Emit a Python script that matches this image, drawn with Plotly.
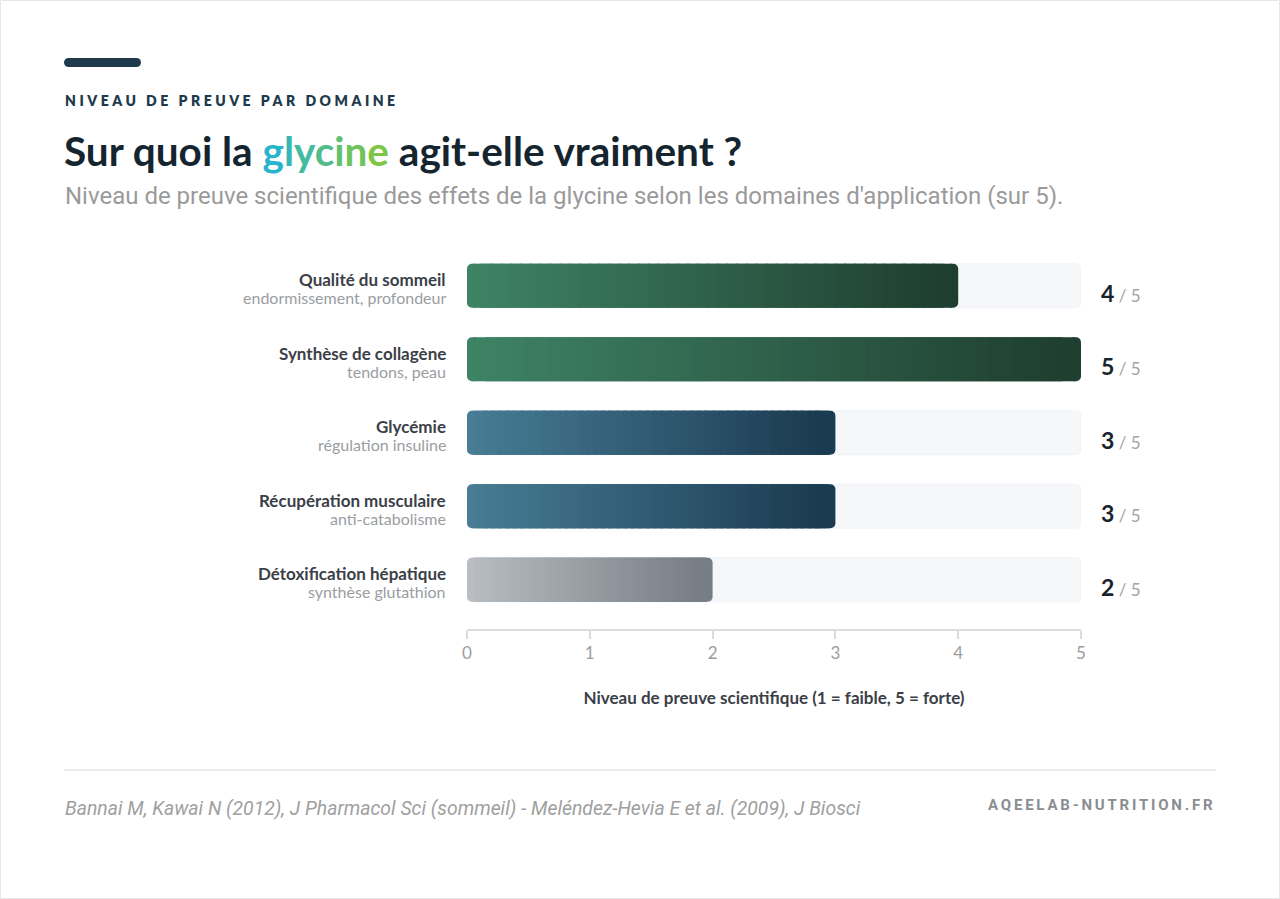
import plotly.graph_objects as go

# ---------------- data ----------------
categories = ["Qualité du sommeil", "Synthèse de collagène", "Glycémie",
              "Récupération musculaire", "Détoxification hépatique"]
sublabels = ["endormissement, profondeur", "tendons, peau", "régulation insuline",
             "anti-catabolisme", "synthèse glutathion"]
scores = [4, 5, 3, 3, 2]
max_score = 5
x_ticks = [0, 1, 2, 3, 4, 5]
# gradient palette per bar (left colour, right colour)
grad_left = [(63, 132, 102), (63, 132, 102), (72, 126, 150), (72, 126, 150), (186, 191, 196)]
grad_right = [(30, 61, 47), (30, 61, 47), (26, 57, 80), (26, 57, 80), (118, 124, 131)]

# ---------------- layout geometry (page pixels) ----------------
W, H = 1280, 899
PL, PR, PT, PB = 467, 1081, 249, 629
PW, PH = PR - PL, PB - PT


def px(x):
    return (x - PL) / PW


def py(y):
    return (PB - y) / PH


ypos = list(range(len(categories)))
N = 50
EXT = 0.05
END_W = 0.1
BAR_W = 0.6
RADIUS = 5

fig = go.Figure()

# background track
fig.add_trace(go.Bar(
    y=ypos, x=[max_score] * len(categories), base=[0] * len(categories),
    orientation="h", width=BAR_W, marker=dict(color="#F5F7F8", cornerradius=RADIUS),
    hoverinfo="skip", showlegend=False))


def seg_color(k, t):
    a, b = grad_left[k], grad_right[k]
    c = [round(a[j] + (b[j] - a[j]) * t) for j in range(3)]
    return "rgb(%d,%d,%d)" % tuple(c)


def seg_trace(i):
    bases, lens, cols = [], [], []
    for k, v in enumerate(scores):
        if i == 0:
            s, e = 0, END_W
        elif i == N - 1:
            s, e = v - END_W, v
        else:
            s = max(v * i / N - EXT, END_W / 2)
            e = min(v * (i + 1) / N + EXT, v - END_W / 2)
            if e < s:
                e = s
        bases.append(s)
        lens.append(e - s)
        cols.append(seg_color(k, (i + 0.5) / N))
    rad = RADIUS if i in (0, N - 1) else 0
    return go.Bar(y=ypos, x=lens, base=bases, orientation="h", width=BAR_W,
                  marker=dict(color=cols, cornerradius=rad, line=dict(width=0)),
                  hoverinfo="skip", showlegend=False)


order = [N - 1, 0] + list(range(1, N - 1))
for i in order:
    fig.add_trace(seg_trace(i))

annotations = []
LABEL_FONT = "Lato"

# category labels
for k, (c, s) in enumerate(zip(categories, sublabels)):
    annotations.append(dict(x=0, y=k, xref="x", yref="y", xanchor="right", yanchor="middle",
                            xshift=-19, yshift=6, text=c, showarrow=False,
                            font=dict(family=LABEL_FONT, size=17, color="#3B4048", weight=700)))
    annotations.append(dict(x=0, y=k, xref="x", yref="y", xanchor="right", yanchor="middle",
                            xshift=-19, yshift=-12, text=s, showarrow=False,
                            font=dict(family=LABEL_FONT, size=16, color="#9A9DA2")))
    annotations.append(dict(x=max_score, y=k, xref="x", yref="y", xanchor="left", yanchor="middle",
                            xshift=18, yshift=-7,
                            text="<b>%d</b><span style='font-size:17px;color:#A0A3A8'> / %d</span>" % (scores[k], max_score),
                            showarrow=False,
                            font=dict(family=LABEL_FONT, size=23, color="#18232C")))

# header
annotations.append(dict(x=px(63), y=py(100), xref="paper", yref="paper", xanchor="left", yanchor="middle",
                        text="<span style='letter-spacing:3.5px'>NIVEAU DE PREUVE PAR DOMAINE</span>",
                        showarrow=False,
                        font=dict(family=LABEL_FONT, size=14, color="#1E3A4C", weight=800)))

gly = "glycine"
gc0, gc1 = (40, 180, 205), (125, 198, 70)
gly_html = ""
for j, ch in enumerate(gly):
    t = j / (len(gly) - 1)
    col = tuple(round(gc0[m] + (gc1[m] - gc0[m]) * t) for m in range(3))
    gly_html += "<span style='color:rgb(%d,%d,%d)'>%s</span>" % (col + (ch,))
annotations.append(dict(x=px(62), y=py(150), xref="paper", yref="paper", xanchor="left", yanchor="middle",
                        text="<b>Sur quoi la " + gly_html + " agit-elle vraiment ?</b>", showarrow=False,
                        font=dict(family=LABEL_FONT, size=40.5, color="#15252F", weight=900)))
annotations.append(dict(x=px(63), y=py(196), xref="paper", yref="paper", xanchor="left", yanchor="middle",
                        text="Niveau de preuve scientifique des effets de la glycine selon les domaines d'application (sur 5).",
                        showarrow=False,
                        font=dict(family="Roboto", size=24, color="#9A9A9A")))

# footer
annotations.append(dict(x=px(63), y=py(808), xref="paper", yref="paper", xanchor="left", yanchor="middle",
                        text="Bannai M, Kawai N (2012), J Pharmacol Sci (sommeil) - Meléndez-Hevia E et al. (2009), J Biosci",
                        showarrow=False,
                        font=dict(family="Roboto", size=19.4, color="#A0A0A0", style="italic")))
annotations.append(dict(x=px(1217), y=py(805), xref="paper", yref="paper", xanchor="right", yanchor="middle",
                        text="<span style='letter-spacing:2.8px'>AQEELAB-NUTRITION.FR</span>",
                        showarrow=False,
                        font=dict(family="Roboto", size=15, color="#8A8D91", weight=700)))

PILL_R = 4.5
shapes = [
    # card border
    dict(type="rect", xref="paper", yref="paper", x0=px(0.5), x1=px(W - 0.5), y0=py(0.5), y1=py(H - 0.5),
         line=dict(color="#E6E6E6", width=1), fillcolor="rgba(0,0,0,0)", layer="below"),
    # accent pill: body + rounded ends
    dict(type="rect", xref="paper", yref="paper", x0=px(64 + PILL_R), x1=px(141 - PILL_R), y0=py(58), y1=py(67),
         line=dict(width=0), fillcolor="#1E3A4C"),
    dict(type="circle", xref="paper", yref="paper", xsizemode="pixel", ysizemode="pixel",
         xanchor=px(64 + PILL_R), yanchor=py(62.5), x0=-PILL_R, x1=PILL_R, y0=-PILL_R, y1=PILL_R,
         line=dict(width=0), fillcolor="#1E3A4C"),
    dict(type="circle", xref="paper", yref="paper", xsizemode="pixel", ysizemode="pixel",
         xanchor=px(141 - PILL_R), yanchor=py(62.5), x0=-PILL_R, x1=PILL_R, y0=-PILL_R, y1=PILL_R,
         line=dict(width=0), fillcolor="#1E3A4C"),
    # footer separator
    dict(type="line", xref="paper", yref="paper", x0=px(64), x1=px(1216), y0=py(770), y1=py(770),
         line=dict(color="#E4E6E8", width=1.5)),
]

fig.update_layout(
    width=W, height=H,
    margin=dict(l=PL, r=W - PR, t=PT, b=H - PB),
    paper_bgcolor="white", plot_bgcolor="white",
    barmode="overlay",
    showlegend=False,
    xaxis=dict(range=[0, max_score], tickvals=x_ticks, showgrid=False, zeroline=False,
               showline=True, linecolor="#DADDE0", linewidth=1.5,
               ticks="outside", ticklen=8, tickcolor="#DADDE0", tickwidth=1.5,
               tickfont=dict(family=LABEL_FONT, size=17, color="#9A9DA2"),
               title=dict(text="Niveau de preuve scientifique (1 = faible, 5 = forte)",
                          font=dict(family=LABEL_FONT, size=17, color="#3B4048", weight=700),
                          standoff=30),
               fixedrange=True),
    yaxis=dict(range=[len(categories) - 1 + 0.67, -0.5], showticklabels=False, showgrid=False,
               zeroline=False, showline=False, ticks="", fixedrange=True),
    annotations=annotations,
    shapes=shapes,
)

fig.write_html("out.html")
